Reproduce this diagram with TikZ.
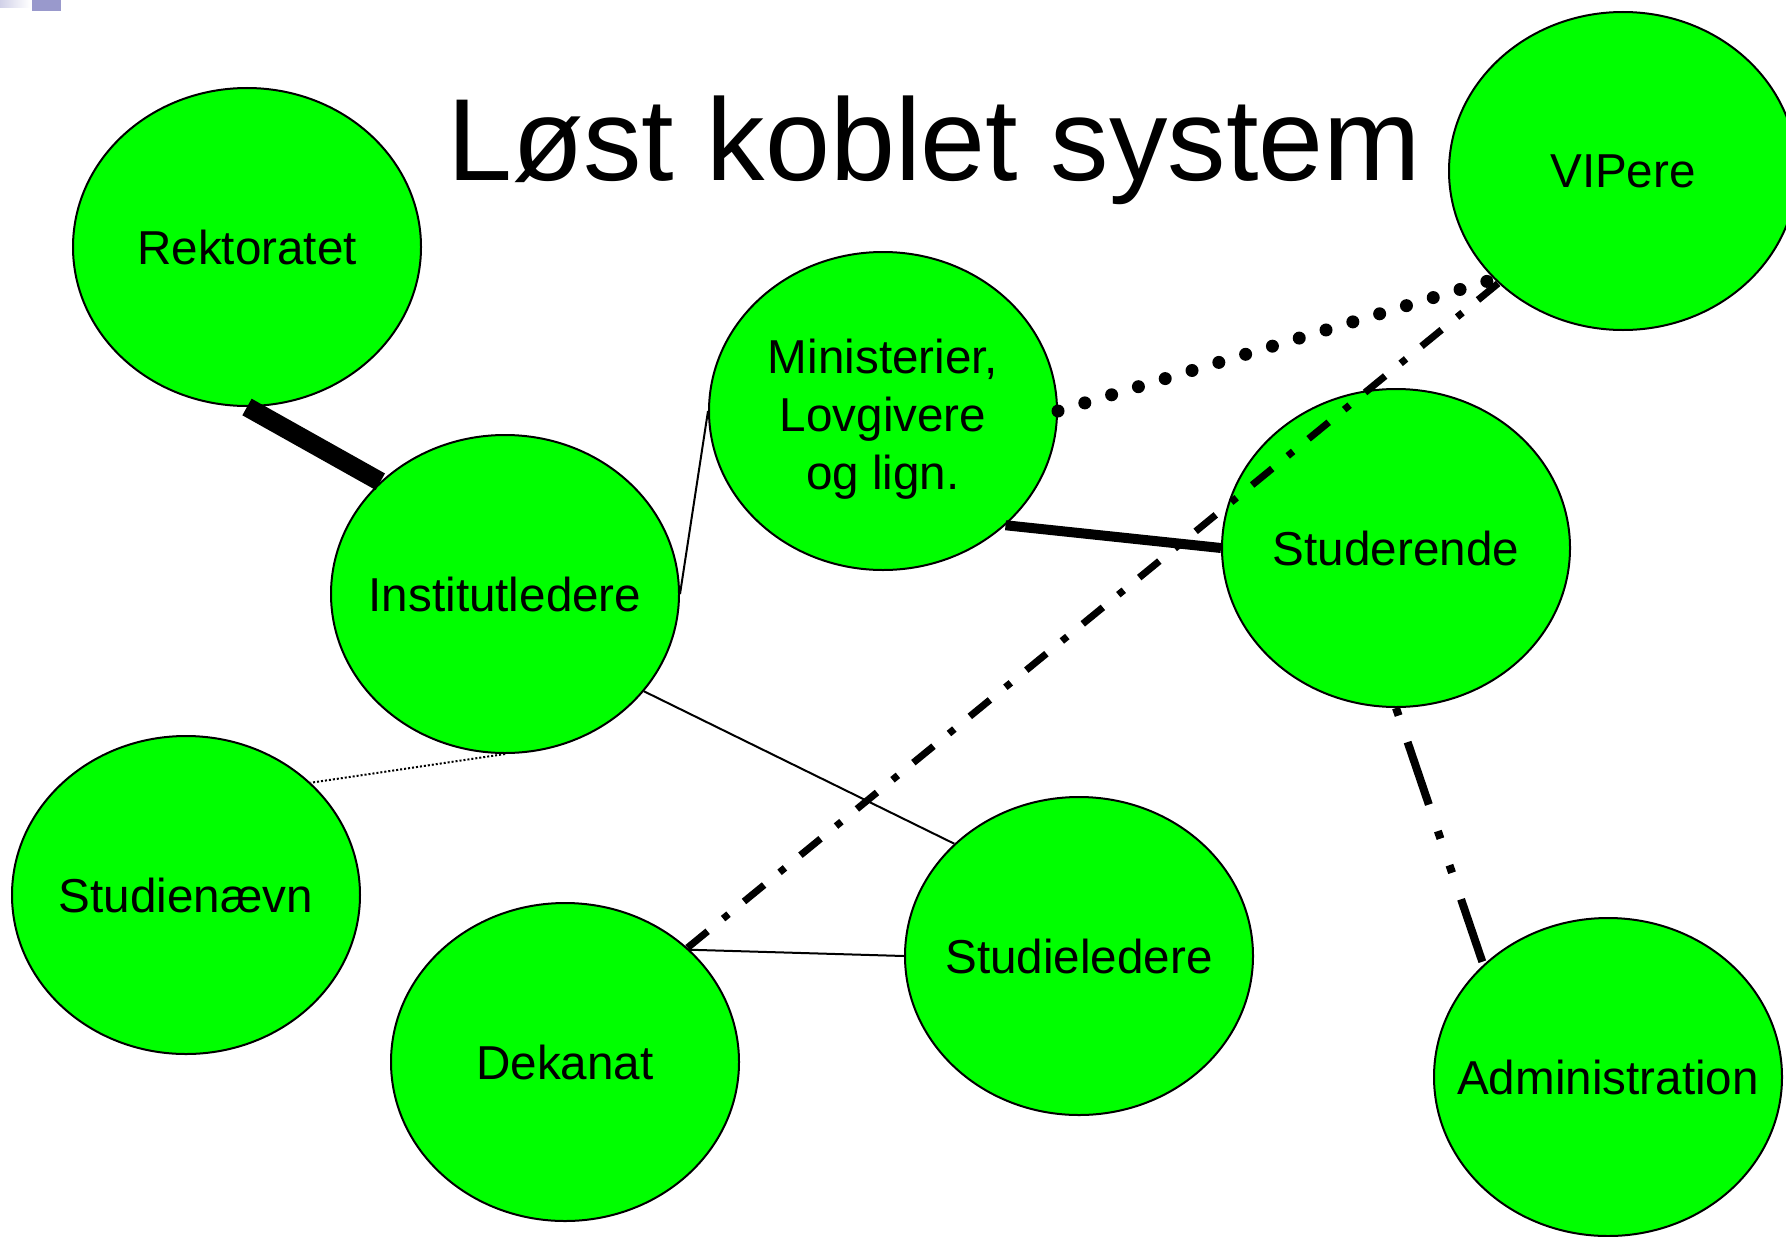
\documentclass[tikz,border=0pt]{standalone}
\usepackage{fontspec}
\setmainfont{Liberation Sans}
\usetikzlibrary{shapes.geometric}
\definecolor{tplblue}{RGB}{153,153,204}
\definecolor{unitgreen}{RGB}{0,255,0}

\begin{document}
\begin{tikzpicture}[x=0.5pt,y=-0.5pt,
    unit/.style={ellipse,draw=black,line width=1pt,fill=unitgreen,
      minimum width=174pt,minimum height=159pt,inner xsep=-30pt,inner ysep=0pt,
      align=center,font=\fontsize{23.8}{29}\selectfont},
    thinlink/.style={line width=1pt},
    heavylink/.style={line width=9.5pt},
    boldlink/.style={line width=5pt},
    dotlink/.style={line width=6.5pt,line cap=round,dash pattern=on 0pt off 14pt},
    finedots/.style={line width=1pt,dash pattern=on 1pt off 1pt},
    dashdotlink/.style={line width=3.5pt,dash pattern=on 13pt off 10pt on 3.5pt off 10pt},
    dashdotdotlink/.style={line width=4pt,dash pattern=on 33pt off 14pt on 4pt off 14pt on 4pt off 14pt,dash phase=65pt}]
  \useasboundingbox (0,0) rectangle (1786,1236);
  \shade[left color=tplblue!45,right color=white] (0,0) rectangle (30,8);
  \fill[tplblue] (32,0) rectangle (61,11);
  \node[anchor=base,font=\fontsize{58.4}{70}\selectfont] (title) at (934,180) {Løst koblet system};
  % units
  \node[unit] (rek)   at (247,247)   {Rektoratet};
  \node[unit] (inst)  at (505,594)   {Institutledere};
  \node[unit] (min)   at (883,411)   {\rule{0pt}{25pt}Ministerier,\\Lovgivere\\og lign.};
  \node[unit] (vip)   at (1623,171)  {VIPere};
  \node[unit] (stud)  at (1396,548)  {Studerende};
  \node[unit] (sn)    at (186,895)   {Studienævn};
  \node[unit] (sl)    at (1079,956)  {Studieledere};
  \node[unit] (dek)   at (565,1062)  {Dekanat};
  \node[unit] (adm)   at (1608,1077) {Administration};
  % links
  \draw[heavylink]      (rek.south) -- (inst.138);
  \draw[thinlink]       (inst.east) -- (min.west);
  \draw[boldlink]       (min.-43) -- (stud.west);
  \draw[dotlink]        (min.east) -- (vip.220);
  \draw[dashdotlink]    (dek.43) -- (vip.222);
  \draw[dashdotdotlink] (stud.south) -- (adm.138);
  \draw[thinlink]       (inst.-35) -- (sl.138);
  \draw[finedots]       (inst.south) -- (sn.42);
  \draw[thinlink]       (dek.42) -- (sl.west);
\end{tikzpicture}
\end{document}
